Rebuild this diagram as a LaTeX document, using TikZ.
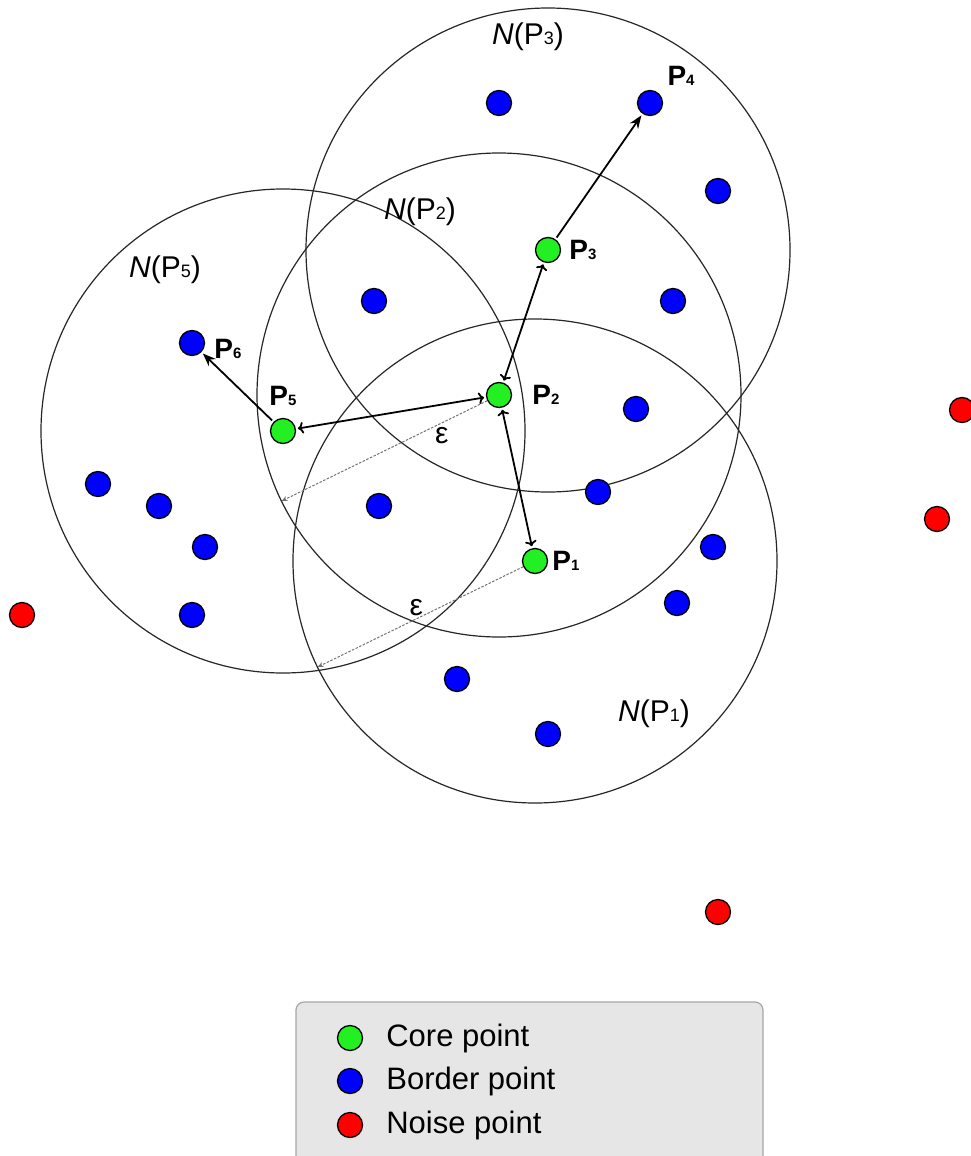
\documentclass[tikz,border=0pt]{standalone}
\usepackage{fontspec}
\setmainfont{Liberation Sans}
\usetikzlibrary{arrows.meta,positioning,backgrounds}
\definecolor{core}{HTML}{22F022}
\definecolor{border}{HTML}{0000FF}
\definecolor{noise}{HTML}{FF0000}
\definecolor{keyfill}{HTML}{E6E6E6}
\newcommand{\sub}[2][15]{{\fontsize{#1}{#1}\selectfont #2}}

\begin{document}
\begin{tikzpicture}[x=1pt,y=-1pt,
  pnt/.style={circle,draw=black,line width=1.3pt,inner sep=0pt,minimum size=25pt},
  corept/.style={pnt,fill=core},
  borderpt/.style={pnt,fill=border},
  noisept/.style={pnt,fill=noise},
  ring/.style={line width=1.2pt,draw=black!85},
  lbl/.style={font=\fontsize{28}{28}\selectfont\bfseries,inner sep=1pt},
  nbh/.style={font=\fontsize{30}{30}\selectfont,inner sep=0pt},
  arr/.style={-{Stealth[length=13pt,width=10pt]},line width=1.8pt,shorten >=2pt,shorten <=2pt},
  eps/.style={-{Stealth[length=6pt,width=5pt]},draw=black!55,line width=1pt,dash pattern=on 2.5pt off 1.5pt},
  keybox/.style={draw=black!35,line width=1.2pt,fill=keyfill,rounded corners=8pt,minimum width=467pt,minimum height=168pt},
  keytxt/.style={font=\fontsize{31}{31}\selectfont,inner sep=0pt}]
\useasboundingbox (0,0) rectangle (970,1156);
\node[corept] (p1) at (535,561) {};
\node[corept] (p2) at (499,395) {};
\node[corept] (p3) at (548,250) {};
\node[corept] (p5) at (283,431) {};
\node[borderpt] (p4) at (650,103) {};
\node[borderpt] (p6) at (192,343) {};
\foreach \x/\y [count=\i] in {499/103,718/191,374/301,673/301,636/409,598/492,98/484,159/506,205/547,379/506,713/547,677/603,192/615,457/679,548/734}
  \node[borderpt] (b\i) at (\x,\y) {};
\foreach \x/\y [count=\i] in {962/410,937/519,22/615,718/912}
  \node[noisept] (n\i) at (\x,\y) {};
\node[lbl,right=3pt of p1] {P\sub{1}};
\node[lbl,right=19pt of p2] {P\sub{2}};
\node[lbl,right=7pt of p3] {P\sub{3}};
\node[lbl,above right=7pt and 7pt of p4] {P\sub{4}};
\node[lbl,above=11pt of p5] {P\sub{5}};
\node[lbl,right=8pt of p6,yshift=-6pt] {P\sub{6}};
\node[nbh] (np3) at (528,37) {\textit{N}(P\sub[18]{3})};
\node[nbh] (np2) at (420,212) {\textit{N}(P\sub[18]{2})};
\node[nbh] (np5) at (165,270) {\textit{N}(P\sub[18]{5})};
\node[nbh] (np1) at (654,714) {\textit{N}(P\sub[18]{1})};
\begin{scope}[on background layer]
\foreach \c in {p1,p2,p3,p5}
  \draw[ring] (\c) circle[radius=242];
\end{scope}
\path (p2) ++(154:242) coordinate (e2);
\path (p1) ++(154:242) coordinate (e1);
\draw[arr] (p3)--(p4);
\draw[arr,<->] (p3)--(p2);
\draw[arr,<->] (p2)--(p5);
\draw[arr,<->] (p2)--(p1);
\draw[arr] (p5)--(p6);
\draw[eps] (p2)--node[pos=0.22,below=4pt,nbh]{ε}(e2);
\draw[eps] (p1)--node[pos=0.52,above=3pt,nbh]{ε}(e1);
\node[keybox] (key) at (529.5,1086) {};
\node[corept] (k1) at (350,1038) {};
\node[borderpt] (k2) at (350,1081) {};
\node[noisept] (k3) at (350,1125) {};
\node[keytxt,right=23pt of k1] {Core point};
\node[keytxt,right=23pt of k2] {Border point};
\node[keytxt,right=23pt of k3] {Noise point};
\end{tikzpicture}
\end{document}
